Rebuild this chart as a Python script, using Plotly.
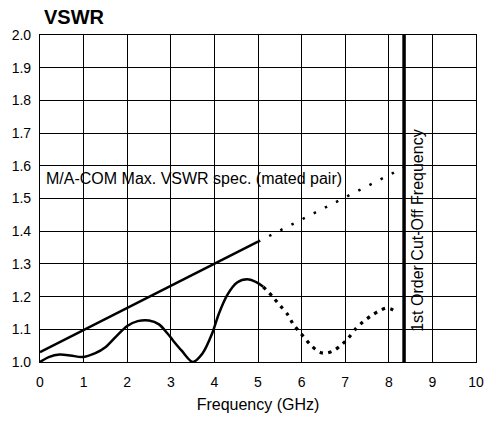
import plotly.graph_objects as go

# ---- data ----
x_ticks = [0, 1, 2, 3, 4, 5, 6, 7, 8, 9, 10]
y_ticks = [1.0, 1.1, 1.2, 1.3, 1.4, 1.5, 1.6, 1.7, 1.8, 1.9, 2.0]

spec_solid_x = [0.0, 5.0]
spec_solid_y = [1.03, 1.368]
spec_dot_x = [5.0, 8.35]
spec_dot_y = [1.368, 1.595]

meas_solid_x = [0.0, 0.2, 0.45, 0.7, 0.97, 1.27, 1.5, 1.76, 2.0, 2.24, 2.5, 2.73, 2.92,
                3.05, 3.26, 3.5, 3.73, 3.95, 4.1, 4.3, 4.52, 4.75, 4.98, 5.12]
meas_solid_y = [1.0, 1.015, 1.023, 1.02, 1.015, 1.027, 1.045, 1.08, 1.11, 1.125, 1.127, 1.115, 1.088,
                1.066, 1.033, 1.0, 1.027, 1.088, 1.147, 1.206, 1.243, 1.253, 1.243, 1.23]
meas_dot_x = [5.12, 5.36, 5.51, 5.67, 5.82, 5.98, 6.2, 6.41, 6.56, 6.74, 6.92, 7.07,
              7.25, 7.41, 7.6, 7.79, 7.94, 8.05, 8.18]
meas_dot_y = [1.23, 1.196, 1.172, 1.147, 1.113, 1.088, 1.053, 1.03, 1.027, 1.035, 1.053, 1.073,
              1.103, 1.123, 1.142, 1.157, 1.165, 1.162, 1.152]

cutoff_x = 8.35
cutoff_y = [1.0, 2.0]

FONT = "Liberation Sans, Arial, Helvetica, sans-serif"

fig = go.Figure()
fig.add_trace(go.Scatter(x=spec_solid_x, y=spec_solid_y, mode="lines",
                         line=dict(color="black", width=2.5), hoverinfo="skip"))
fig.add_trace(go.Scatter(x=spec_dot_x, y=spec_dot_y, mode="lines",
                         line=dict(color="black", width=2.5, dash="2.5px,10px"), hoverinfo="skip"))
fig.add_trace(go.Scatter(x=meas_solid_x, y=meas_solid_y, mode="lines",
                         line=dict(color="black", width=2.5, shape="spline", smoothing=0.8),
                         hoverinfo="skip"))
fig.add_trace(go.Scatter(x=meas_dot_x, y=meas_dot_y, mode="lines",
                         line=dict(color="black", width=3.2, dash="3.2px,5.5px", shape="spline",
                                   smoothing=0.8),
                         hoverinfo="skip"))
fig.add_trace(go.Scatter(x=[cutoff_x, cutoff_x], y=cutoff_y, mode="lines",
                         line=dict(color="black", width=3.5), hoverinfo="skip"))

fig.add_annotation(x=0.1, y=1.56, xref="x", yref="y", xanchor="left", yanchor="middle",
                   text="M/A-COM Max. VSWR spec. (mated pair)", showarrow=False,
                   font=dict(family=FONT, size=16, color="black"))
fig.add_annotation(x=8.66, y=1.40, xref="x", yref="y", xanchor="center", yanchor="middle",
                   text="1st Order Cut-Off Frequency", showarrow=False, textangle=-90,
                   font=dict(family=FONT, size=16, color="black"))
fig.add_annotation(xref="paper", yref="paper", x=0.004, y=1.054, xanchor="left", yanchor="middle",
                   text="<b>VSWR</b>", showarrow=False,
                   font=dict(family=FONT, size=20, color="black"))

fig.update_layout(
    width=496, height=422,
    margin=dict(l=38, r=18, t=35, b=53),
    paper_bgcolor="white", plot_bgcolor="white",
    showlegend=False,
    font=dict(family=FONT, size=14, color="black"),
    xaxis=dict(range=[0, 10], tickvals=x_ticks, ticktext=[str(v) for v in x_ticks],
               showgrid=True, gridcolor="black", gridwidth=1, zeroline=False,
               showline=True, linecolor="black", linewidth=1.2, mirror=True,
               ticks="", ticklabelstandoff=7,
               title=dict(text="Frequency (GHz)", font=dict(family=FONT, size=16), standoff=9),
               tickfont=dict(family=FONT, size=14)),
    yaxis=dict(range=[1.0, 2.0], tickvals=y_ticks, ticktext=[f"{v:.1f}" for v in y_ticks],
               showgrid=True, gridcolor="black", gridwidth=1, zeroline=False,
               showline=True, linecolor="black", linewidth=1.2, mirror=True,
               ticks="", ticklabelstandoff=5,
               tickfont=dict(family=FONT, size=14)),
)

fig.write_html("out.html", config={"displayModeBar": False},
               post_script="document.body.style.margin='0';")
